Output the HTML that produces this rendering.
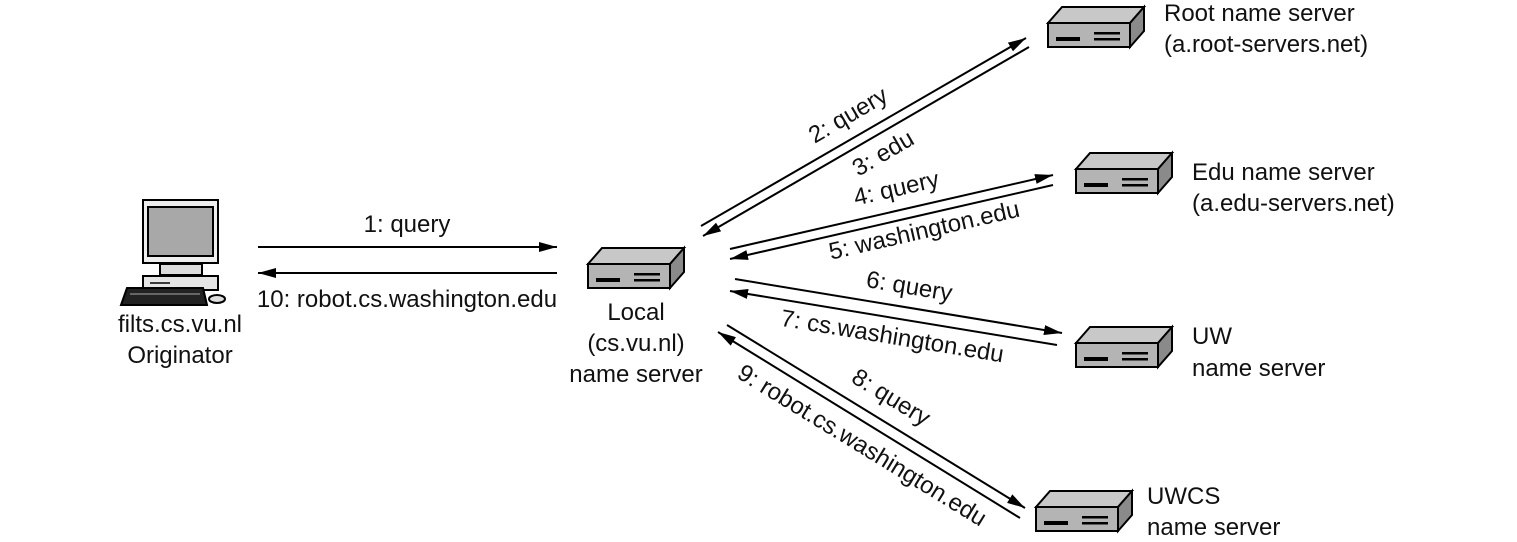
<!DOCTYPE html>
<html><head><meta charset="utf-8"><style>
html,body{margin:0;padding:0;background:#fff;}
svg{display:block;}
text{font-family:"Liberation Sans",Arial,sans-serif;font-size:24px;fill:#111;}
</style></head><body>
<svg width="1517" height="542" viewBox="0 0 1517 542" xmlns="http://www.w3.org/2000/svg">
<defs>
<marker id="ah" viewBox="0 0 18 10" refX="18" refY="5" markerWidth="18" markerHeight="10" markerUnits="userSpaceOnUse" orient="auto">
<path d="M0,0 L18,5 L0,10 z" fill="#000"/>
</marker>
<g id="srv">
<polygon points="0,16 14,0 96,0 82,16" fill="#c8c8c8" stroke="#000" stroke-width="2"/>
<polygon points="82,16 96,0 96,24 82,40" fill="#8a8a8a" stroke="#000" stroke-width="2"/>
<rect x="0" y="16" width="82" height="24" fill="#b4b4b4" stroke="#000" stroke-width="2"/>
<rect x="8" y="30" width="24" height="4" fill="#000"/>
<rect x="46" y="25" width="26" height="2.5" fill="#000"/>
<rect x="46" y="31" width="26" height="2.5" fill="#000"/>
</g>
</defs>

<g stroke="#000" stroke-width="2">
<rect x="143" y="200" width="75" height="63" fill="#eee"/>
<rect x="148" y="207" width="65" height="49" fill="#a8a8a8"/>
<rect x="160" y="264" width="42" height="11" fill="#ddd"/>
<rect x="143" y="276" width="75" height="14" fill="#e4e4e4"/>
<polygon points="127,288 203,288 207,305 121,305" fill="#222"/>
<ellipse cx="217" cy="299" rx="8" ry="4" fill="#ddd"/>
</g>
<line x1="130" y1="294" x2="200" y2="294" stroke="#aaa" stroke-width="1"/>
<line x1="150" y1="283" x2="170" y2="283" stroke="#000" stroke-width="1.5"/>

<use href="#srv" x="588" y="248"/>
<use href="#srv" x="1048" y="7"/>
<use href="#srv" x="1076" y="153"/>
<use href="#srv" x="1076" y="327"/>
<use href="#srv" x="1036" y="491"/>

<g stroke="#000" stroke-width="2" fill="none">
<line x1="258" y1="247" x2="557" y2="247" marker-end="url(#ah)"/>
<line x1="557" y1="273" x2="258" y2="273" marker-end="url(#ah)"/>
<line x1="701" y1="226" x2="1026" y2="38" marker-end="url(#ah)"/>
<line x1="1029" y1="47" x2="703" y2="236" marker-end="url(#ah)"/>
<line x1="730" y1="249" x2="1053" y2="175" marker-end="url(#ah)"/>
<line x1="1053" y1="185" x2="730" y2="259" marker-end="url(#ah)"/>
<line x1="735" y1="279" x2="1062" y2="333" marker-end="url(#ah)"/>
<line x1="1057" y1="345" x2="730" y2="291" marker-end="url(#ah)"/>
<line x1="727" y1="325" x2="1025" y2="508" marker-end="url(#ah)"/>
<line x1="1020" y1="518" x2="718" y2="332" marker-end="url(#ah)"/>
</g>

<text x="407" y="232" text-anchor="middle">1: query</text>
<text x="407" y="307" text-anchor="middle">10: robot.cs.washington.edu</text>
<text x="180" y="332" text-anchor="middle">filts.cs.vu.nl</text>
<text x="180" y="363" text-anchor="middle">Originator</text>
<text x="636" y="320" text-anchor="middle">Local</text>
<text x="636" y="351" text-anchor="middle">(cs.vu.nl)</text>
<text x="636" y="382" text-anchor="middle">name server</text>
<text x="1164" y="21">Root name server</text>
<text x="1164" y="52">(a.root-servers.net)</text>
<text x="1192" y="180">Edu name server</text>
<text x="1192" y="211">(a.edu-servers.net)</text>
<text x="1192" y="344">UW</text>
<text x="1192" y="376">name server</text>
<text x="1147" y="504">UWCS</text>
<text x="1147" y="535">name server</text>

<text transform="translate(852,122) rotate(-30.3)" text-anchor="middle">2: query</text>
<text transform="translate(887,160) rotate(-30.3)" text-anchor="middle">3: edu</text>
<text transform="translate(898,196) rotate(-12.9)" text-anchor="middle">4: query</text>
<text transform="translate(926,238) rotate(-12.9)" text-anchor="middle">5: washington.edu</text>
<text transform="translate(908,294) rotate(9.4)" text-anchor="middle">6: query</text>
<text transform="translate(891,344) rotate(9.4)" text-anchor="middle">7: cs.washington.edu</text>
<text transform="translate(887,404) rotate(31.5)" text-anchor="middle">8: query</text>
<text transform="translate(858,452) rotate(31.5)" text-anchor="middle">9: robot.cs.washington.edu</text>
</svg>
</body></html>
